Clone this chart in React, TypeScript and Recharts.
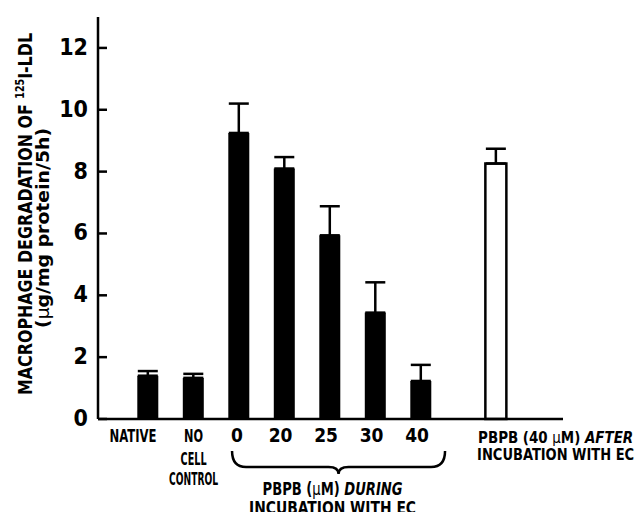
import React from 'react';
import { BarChart, Bar, XAxis, YAxis, ErrorBar, Cell } from 'recharts';

const categories = ['NATIVE', 'NO CELL CONTROL', '0', '20', '25', '30', '40', 'AFTER'];
const positions = [0, 1, 2, 3, 4, 5, 6, 7.65];
const values = [1.4, 1.33, 9.25, 8.1, 5.94, 3.44, 1.23, 8.26];
const errors = [0.15, 0.13, 0.95, 0.37, 0.94, 0.98, 0.52, 0.48];
const hollow = [false, false, false, false, false, false, false, true];
const yTicks = [0, 2, 4, 6, 8, 10, 12];
const xLabelLines: string[][] = [['NATIVE'], ['NO', 'CELL', 'CONTROL'], ['0'], ['20'], ['25'], ['30'], ['40'], []];

const data = categories.map((c, i) => ({
  name: c,
  pos: positions[i],
  value: values[i],
  err: [0, errors[i]],
  hollow: hollow[i],
}));

const W = 638;
const H = 512;
const M_TOP = 17;
const M_RIGHT = 75;
const Y_W = 98;
const X_H = 93;
const X_DOMAIN: [number, number] = [-1.1, 9.12];
const FF = "'DejaVu Sans Condensed', 'DejaVu Sans', sans-serif";
const ST: React.CSSProperties = { fontStretch: 'condensed' };
const LABEL_LEN: Record<string, number> = { NATIVE: 47, NO: 19, CELL: 26, CONTROL: 49 };

const plotLeft = Y_W;
const plotRight = W - M_RIGHT;
const xs = (v: number) => plotLeft + ((v - X_DOMAIN[0]) / (X_DOMAIN[1] - X_DOMAIN[0])) * (plotRight - plotLeft);

const YTick = (props: any) => {
  const { x, y, payload } = props;
  return (
    <g>
      <line x1={x + 10} x2={x + 19} y1={y} y2={y} stroke="#000" strokeWidth={2.5} />
      <text x={x} y={y + 7} textAnchor="end" fontFamily={FF} style={ST} fontWeight="bold" fontSize={23} fill="#000">
        {payload.value}
      </text>
    </g>
  );
};

const XTick = (props: any) => {
  const { x, y, payload } = props;
  const idx = positions.indexOf(payload.value);
  if (idx < 0) return null;
  if (idx === 7) {
    return (
      <g fontFamily={FF} style={ST} fontWeight="bold" fontSize={16} fill="#000">
        <text x={x - 18} y={y + 24} textLength={155} lengthAdjust="spacingAndGlyphs">
          PBPB (40 <tspan fontWeight="normal">μ</tspan>M) <tspan fontStyle="italic">AFTER</tspan>
        </text>
        <text x={x - 19} y={y + 41} textLength={157} lengthAdjust="spacingAndGlyphs">INCUBATION WITH EC</text>
      </g>
    );
  }
  const lines = xLabelLines[idx];
  const dx = idx === 0 ? -15 : idx === 1 ? 0 : idx === 2 ? -2 : -4;
  const base = [23, 46, 66];
  return (
    <g fontFamily={FF} style={ST} fontWeight="bold" fontSize={idx >= 2 ? 19 : 18.5} fill="#000">
      {lines.map((l, i) => (
        <text
          key={i}
          x={x + dx}
          y={y + base[i]}
          textAnchor="middle"
          textLength={LABEL_LEN[l]}
          lengthAdjust={LABEL_LEN[l] ? 'spacingAndGlyphs' : undefined}
        >
          {l}
        </text>
      ))}
    </g>
  );
};

const Overlay = () => {
  const bl = xs(positions[2]) - 7;
  const br = xs(positions[6]) + 24;
  const bc = (bl + br) / 2;
  const top = 451;
  const mid = 467;
  const tip = 474;
  const brace = `M ${bl} ${top} Q ${bl} ${mid} ${bl + 14} ${mid} L ${bc - 10} ${mid} Q ${bc} ${mid} ${bc} ${tip} Q ${bc} ${mid} ${bc + 10} ${mid} L ${br - 14} ${mid} Q ${br} ${mid} ${br} ${top}`;
  return (
    <svg width={W} height={H} style={{ position: 'absolute', left: 0, top: 0, pointerEvents: 'none' }}>
      <path d={brace} fill="none" stroke="#000" strokeWidth={2.5} />
      <g fontFamily={FF} style={ST} fontWeight="bold" fontSize={17} fill="#000" textAnchor="middle">
        <text x={bc - 6} y={495} textLength={140} lengthAdjust="spacingAndGlyphs">
          PBPB (<tspan fontWeight="normal">μ</tspan>M) <tspan fontStyle="italic">DURING</tspan>
        </text>
        <text x={bc - 6} y={514} textLength={167} lengthAdjust="spacingAndGlyphs">INCUBATION WITH EC</text>
      </g>
      <g transform="translate(32, 214) rotate(-90)">
        <text x={0} y={0} textAnchor="middle" fontFamily={FF} style={ST} fontWeight="bold" fontSize={20} fill="#000" textLength={362} lengthAdjust="spacingAndGlyphs">
          MACROPHAGE DEGRADATION OF <tspan fontSize={12} dy={-8}>125</tspan><tspan dy={8}>I-LDL</tspan>
        </text>
      </g>
      <g transform="translate(49, 228) rotate(-90)">
        <text x={0} y={0} textAnchor="middle" fontFamily={FF} style={ST} fontWeight="bold" fontSize={17} fill="#000" textLength={200} lengthAdjust="spacingAndGlyphs">
          (<tspan fontWeight="normal">μ</tspan>g/mg protein/5h)
        </text>
      </g>
    </svg>
  );
};

export default function App() {
  return (
    <div style={{ position: 'absolute', left: 0, top: 0, width: W, height: H, background: '#fff' }}>
      <BarChart width={W} height={H} data={data} margin={{ top: M_TOP, right: M_RIGHT, bottom: 0, left: 0 }}>
        <XAxis
          type="number"
          dataKey="pos"
          domain={X_DOMAIN}
          ticks={positions}
          interval={0}
          allowDataOverflow
          height={X_H}
          tickSize={0}
          tickMargin={0}
          tickLine={false}
          axisLine={{ stroke: '#000', strokeWidth: 2.5 }}
          tick={<XTick />}
        />
        <YAxis
          type="number"
          domain={[0, 13]}
          ticks={yTicks}
          width={Y_W}
          tickSize={0}
          tickMargin={10}
          tickLine={false}
          axisLine={{ stroke: '#000', strokeWidth: 2.5 }}
          tick={<YTick />}
        />
        <Bar dataKey="value" barSize={21} isAnimationActive={false}>
          {data.map((d, i) => (
            <Cell key={i} fill={d.hollow ? '#fff' : '#000'} stroke={d.hollow ? '#000' : 'none'} strokeWidth={d.hollow ? 2.5 : 0} />
          ))}
          <ErrorBar dataKey="err" direction="y" width={10} stroke="#000" strokeWidth={2.5} isAnimationActive={false} />
        </Bar>
      </BarChart>
      <Overlay />
    </div>
  );
}
